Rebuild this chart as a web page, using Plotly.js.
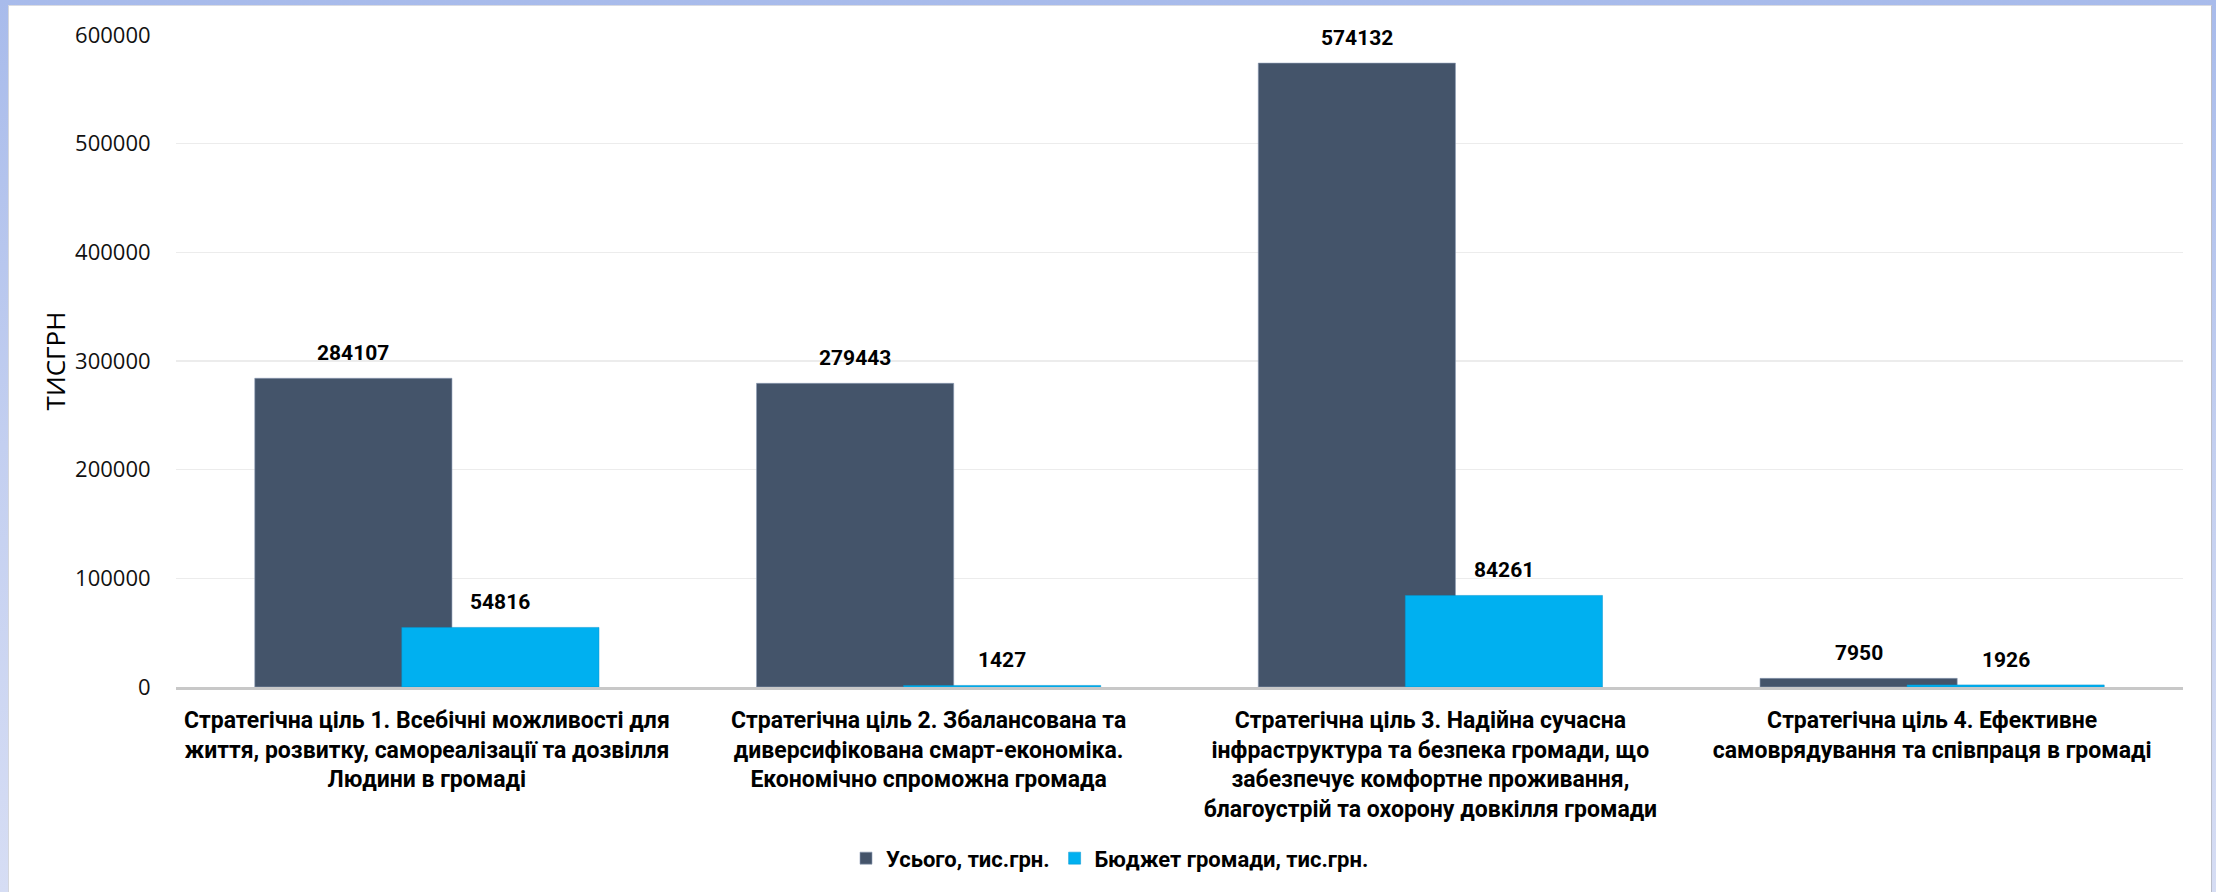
<!DOCTYPE html>
<html>
<head>
<meta charset="utf-8">
<script src="https://cdn.plot.ly/plotly-3.0.1.min.js"></script>
<style>
  html, body { margin: 0; padding: 0; width: 2216px; height: 892px; overflow: hidden;
    background: linear-gradient(to bottom, #a8bbeb 0%, #c3cff0 50%, #d6ddf4 100%); }
  #chart { position: absolute; left: 8px; top: 5px; width: 2202px; height: 886px;
    border-left: 1px solid #d4d6dc; border-top: 1px solid #d9dbe2; border-right: 1px solid #b9bdc9;
    background: #ffffff; }
</style>
</head>
<body>
<div id="chart"></div>
<script>
// ---- data ----
const categories = [
  "Стратегічна ціль 1",
  "Стратегічна ціль 2",
  "Стратегічна ціль 3",
  "Стратегічна ціль 4"
];
const categoryLabels = [
  "Стратегічна ціль 1. Всебічні можливості для<br>життя, розвитку, самореалізації та дозвілля<br>Людини в громаді",
  "Стратегічна ціль 2. Збалансована та<br>диверсифікована смарт-економіка.<br>Економічно спроможна громада",
  "Стратегічна ціль 3. Надійна сучасна<br>інфраструктура та безпека громади, що<br>забезпечує комфортне проживання,<br>благоустрій та охорону довкілля громади",
  "Стратегічна ціль 4. Ефективне<br>самоврядування та співпраця в громаді"
];
const totalName = "Усього, тис.грн.";
const totalValues = [284107, 279443, 574132, 7950];
const budgetName = "Бюджет громади, тис.грн.";
const budgetValues = [54816, 1427, 84261, 1926];
const yTickValues = [0, 100000, 200000, 300000, 400000, 500000, 600000];
const yTickLabels = ["0", "100000", "200000", "300000", "400000", "500000", "600000"];
const yAxisTitle = "ТИСГРН";

// ---- styling ----
const barWidth = 0.393;
const offTotal = -0.343;
const offBudget = -0.05;
const fam = "Roboto, 'Liberation Sans', sans-serif";
const valueFont = { family: fam, size: 21, color: "#000000", weight: 700 };
const catFont = { family: fam, size: 23, color: "#000000", weight: 700 };

const traces = [
  {
    type: "bar", name: totalName, x: categories, y: totalValues,
    width: barWidth, offset: offTotal,
    marker: { color: "#44546a", line: { color: "rgba(140,155,180,0.6)", width: 1 } },
    hoverinfo: "skip"
  },
  {
    type: "bar", name: budgetName, x: categories, y: budgetValues,
    width: barWidth, offset: offBudget,
    marker: { color: "#00b0f0", line: { color: "rgba(0,150,210,0.5)", width: 1 } },
    hoverinfo: "skip"
  }
];

const annotations = [];
totalValues.forEach((v, i) => annotations.push({
  x: i + offTotal + barWidth / 2, y: v, xref: "x", yref: "y",
  text: String(v), showarrow: false, yanchor: "bottom", yshift: 11, font: valueFont
}));
budgetValues.forEach((v, i) => annotations.push({
  x: i + offBudget + barWidth / 2, y: v, xref: "x", yref: "y",
  text: String(v), showarrow: false, yanchor: "bottom", yshift: 11, font: valueFont
}));

const layout = {
  width: 2202, height: 886,
  margin: { l: 167, r: 28, t: 29, b: 205 },
  paper_bgcolor: "#ffffff", plot_bgcolor: "#ffffff",
  barmode: "overlay",
  showlegend: true,
  legend: {
    orientation: "h", xref: "container", yref: "container",
    x: 0.5, xanchor: "center", y: 0.038, yanchor: "middle",
    font: { family: fam, size: 22, color: "#000000", weight: 700 },
    itemclick: false, itemdoubleclick: false
  },
  xaxis: {
    type: "category",
    tickmode: "array", tickvals: categories, ticktext: categoryLabels,
    tickfont: catFont,
    showline: true, linecolor: "#c8c8c8", linewidth: 3,
    ticks: "outside", ticklen: 10, tickcolor: "rgba(0,0,0,0)",
    showgrid: false, zeroline: false, fixedrange: true
  },
  yaxis: {
    range: [0, 600000],
    tickmode: "array", tickvals: yTickValues, ticktext: yTickLabels,
    tickfont: { family: "'Open Sans', 'DejaVu Sans', sans-serif", size: 22, color: "#111111" },
    ticks: "outside", ticklen: 20, tickcolor: "rgba(0,0,0,0)",
    showgrid: true, gridcolor: "#ececec", gridwidth: 1.5,
    zeroline: false, showline: false, fixedrange: true,
    title: { text: yAxisTitle, font: { family: "'Open Sans', 'DejaVu Sans', sans-serif", size: 26, color: "#000000" }, standoff: 2 }
  },
  annotations: annotations,
  hovermode: false
};

Plotly.newPlot("chart", traces, layout, { displayModeBar: false, staticPlot: true });
</script>
</body>
</html>
